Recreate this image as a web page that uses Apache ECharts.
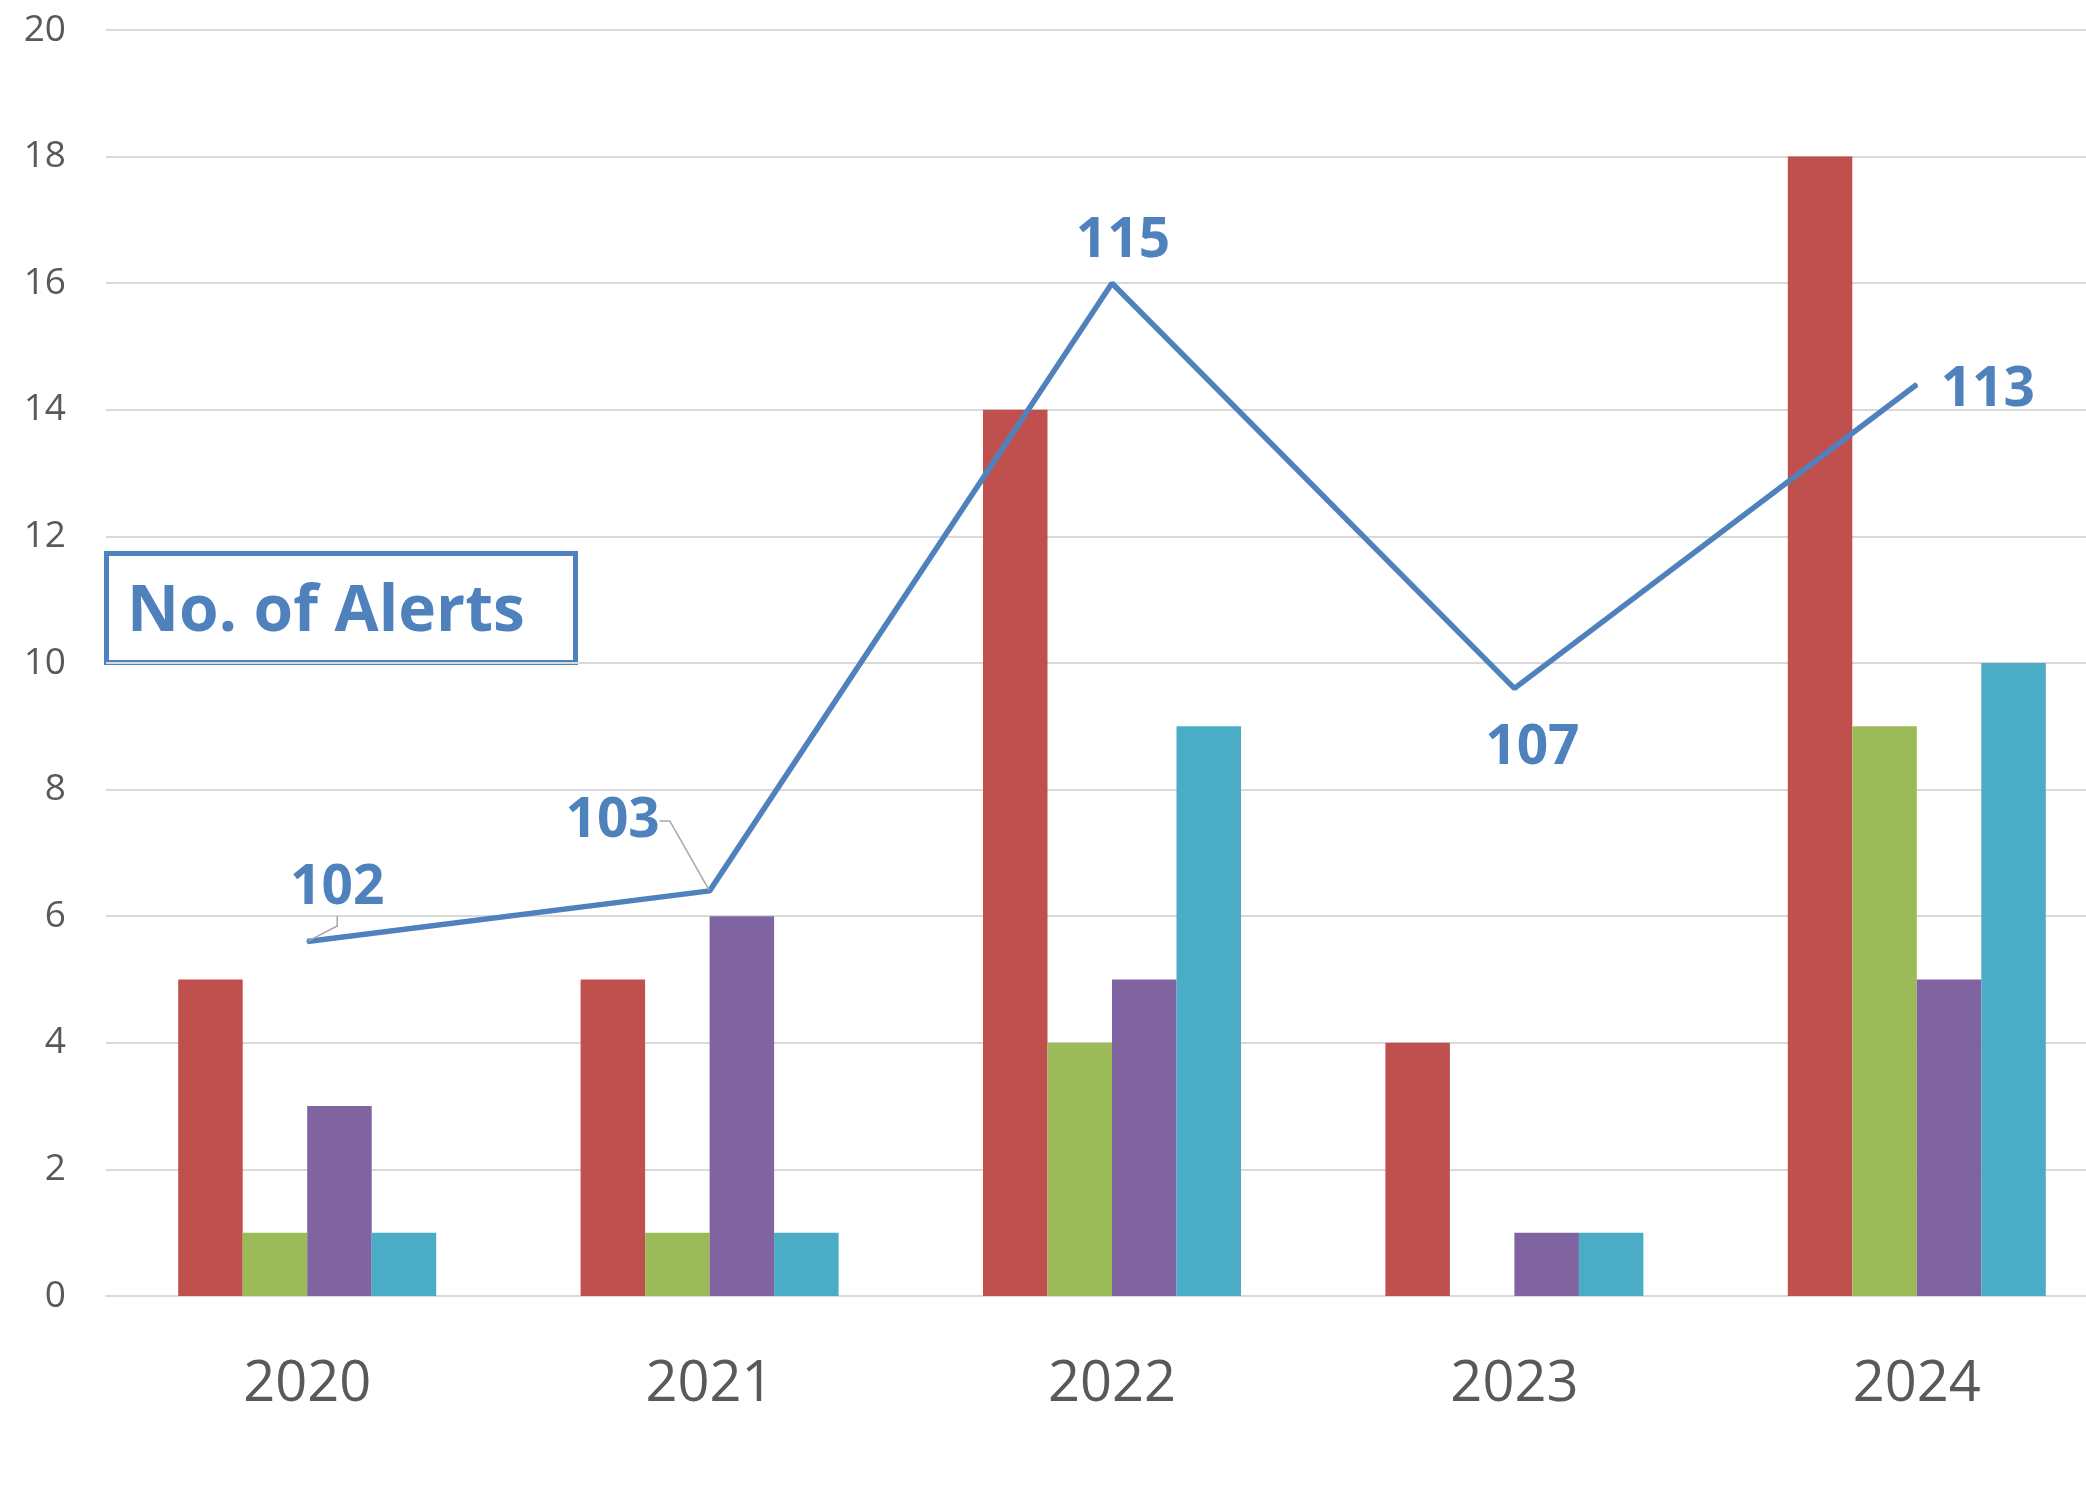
<!DOCTYPE html>
<html>
<head>
<meta charset="utf-8">
<title>No. of Alerts</title>
<script src="https://cdn.jsdelivr.net/npm/echarts@6/dist/echarts.min.js"></script>
<style>
  html, body { margin: 0; padding: 0; background: #fff; overflow: hidden; }
  #wrap { width: 2086px; height: 1496px; overflow: hidden; }
  /* the plot runs past the right edge, as in the cropped original */
  #chart { width: 2118px; height: 1496px; }
</style>
</head>
<body>
<div id="wrap"><div id="chart"></div></div>
<script>
// data
var years = ['2020', '2021', '2022', '2023', '2024'];
var redValues = [5, 5, 14, 4, 18];
var greenValues = [1, 1, 4, 0, 9];
var purpleValues = [3, 6, 5, 1, 5];
var tealValues = [1, 1, 9, 1, 10];
var alertTotals = [102, 103, 115, 107, 113];

// label offsets from each line point (px)
var labelOffsets = [
    { dx: 30, dy: -53 },
    { dx: -97, dy: -70 },
    { dx: 11, dy: -42 },
    { dx: 18, dy: 60 },
    { dx: 71, dy: 6 }
];
var withGuide = [true, true, false, false, false];

var FONT = '"Open Sans", "Noto Sans", sans-serif';
var BLUE = '#4F81BD';

function barSeries(name, values, color) {
    return {
        name: name,
        type: 'bar',
        data: values,
        barWidth: 64.5,
        barGap: '0%',
        itemStyle: { color: color },
        z: 2
    };
}

var chart = echarts.init(document.getElementById('chart'));

var lineData = alertTotals.map(function (v, i) {
    return {
        value: v,
        labelLine: { show: withGuide[i] }
    };
});

var option = {
    animation: false,
    backgroundColor: '#fff',
    textStyle: { fontFamily: FONT },
    grid: {
        left: 106,
        top: 30,
        right: 0,
        bottom: 200
    },
    xAxis: {
        type: 'category',
        data: years,
        axisLine: { lineStyle: { color: '#D9D9D9', width: 2 } },
        axisTick: { show: false },
        axisLabel: {
            color: '#595959',
            fontSize: 56,
            fontFamily: FONT,
            margin: 61
        }
    },
    yAxis: [{
        type: 'value',
        min: 0,
        max: 20,
        interval: 2,
        axisLine: { show: false },
        axisTick: { show: false },
        splitLine: { lineStyle: { color: '#D9D9D9', width: 2 } },
        axisLabel: {
            color: '#595959',
            fontSize: 37,
            fontFamily: FONT,
            margin: 40
        }
    }, {
        type: 'value',
        min: 95,
        max: 120,
        show: false,
        splitLine: { show: false }
    }],
    series: [
        barSeries('Red', redValues, '#C0504D'),
        barSeries('Green', greenValues, '#9BBB59'),
        barSeries('Purple', purpleValues, '#8064A2'),
        barSeries('Teal', tealValues, '#4BACC6'),
        {
            name: 'No. of Alerts',
            type: 'line',
            yAxisIndex: 1,
            data: lineData,
            symbol: 'circle',
            symbolSize: 2,
            itemStyle: { color: BLUE },
            lineStyle: { color: BLUE, width: 5.5 },
            z: 5,
            label: {
                show: true,
                position: 'inside',
                color: BLUE,
                fontWeight: 'bold',
                fontSize: 55,
                fontFamily: FONT
            },
            labelLine: {
                show: false,
                length2: 10,
                lineStyle: { color: '#A6A6A6', width: 1.5 }
            },
            labelLayout: function (params) {
                return labelOffsets[params.dataIndex];
            }
        }
    ],
    graphic: [{
        type: 'group',
        left: 104,
        top: 551,
        children: [{
            type: 'rect',
            shape: { x: 2.5, y: 2.5, width: 469, height: 109 },
            style: { fill: '#fff', stroke: BLUE, lineWidth: 5 }
        }, {
            type: 'text',
            x: 23,
            y: 62,
            style: {
                text: 'No. of Alerts',
                fill: BLUE,
                font: 'bold 64px ' + FONT,
                verticalAlign: 'middle'
            }
        }],
        z: 10
    }]
};

chart.setOption(option);
</script>
</body>
</html>
